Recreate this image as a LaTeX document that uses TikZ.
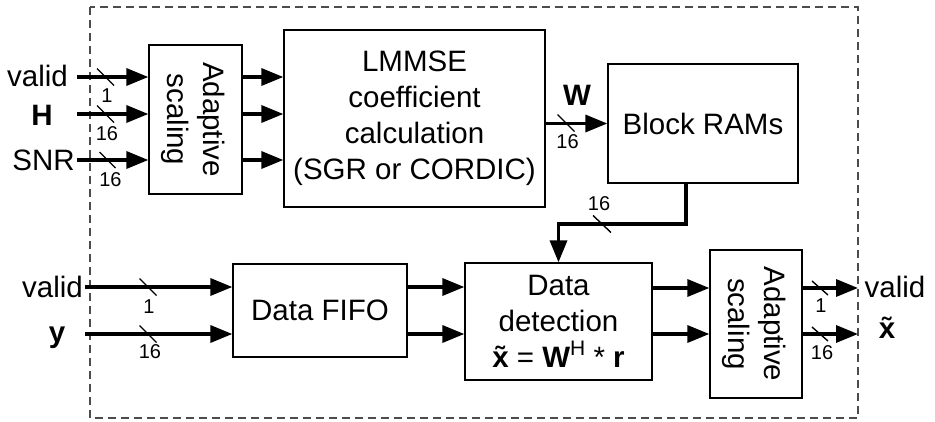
\documentclass[tikz,border=0pt]{standalone}
\usepackage{fontspec}
\setmainfont{Liberation Sans}
\usetikzlibrary{arrows.meta,calc}
\newcommand\bigf{\fontsize{29.5}{36}\selectfont}
\newcommand\smf{\fontsize{20}{22}\selectfont}
\newcommand\xt{\textbf{x̃}}
\begin{document}
\begin{tikzpicture}[x=1pt,y=-1pt,
  blk/.style={draw, line width=1.3pt, inner sep=0pt, align=center, font=\bigf},
  arr/.style={line width=3.4pt, -{Triangle[length=22pt,width=17pt]}},
  tick/.style={line width=1.4pt},
  lab/.style={font=\bigf, inner sep=0pt, anchor=base},
  num/.style={font=\smf, inner sep=0pt},
  rot/.style={rotate=-90, font=\bigf, align=center, inner sep=0pt}]
\useasboundingbox (0,0) rectangle (935,421);
\draw[dash pattern=on 8pt off 5pt, line width=1.2pt, black!70] (90,7) rectangle (858,418);

% blocks
\node[blk, minimum width=93pt, minimum height=149pt] (as1) at (195.5,119.5) {};
\node[rot] at ($(as1)+(-2,0)$) {Adaptive\\scaling};
\node[blk, minimum width=261pt, minimum height=177pt] (lmmse) at (414.5,118.5) {LMMSE\\coefficient\\calculation\\(SGR or CORDIC)};
\node[blk, minimum width=190pt, minimum height=119pt] (ram) at (703,123.5) {Block RAMs};
\node[blk, minimum width=174pt, minimum height=93pt] (fifo) at (320,310.5) {Data FIFO};
\node[blk, minimum width=187pt, minimum height=117pt] (det) at (558.5,321.5) {Data\\detection\\\xt{} = \textbf{W}\raisebox{12pt}{\fontsize{21}{21}\selectfont H} * \textbf{r}};
\node[blk, minimum width=92pt, minimum height=148pt] (as2) at (756,324) {};
\node[rot] at ($(as2)+(-2,0)$) {Adaptive\\scaling};

% input / output coordinates
\coordinate (iv) at (77,77);
\coordinate (ih) at (77,114);
\coordinate (is) at (77,160);
\coordinate (bv) at (85,287);
\coordinate (by) at (85,334);
\coordinate (ov) at (858,288);
\coordinate (ox) at (858,334);

% labels
\node[lab] at (37.5,86) {valid};
\node[lab] at (42,125) {\textbf{H}};
\node[lab] at (43.5,170) {SNR};
\node[lab] at (52.5,297) {valid};
\node[lab] at (57,342) {\textbf{y}};
\node[lab] at (895,297) {valid};
\node[lab] at (887,338) {\xt};
\node[lab] at (577,105) {\textbf{W}};

% top-left inputs
\draw[arr] (iv) -- (iv -| as1.west);
\draw[arr] (ih) -- (ih -| as1.west);
\draw[arr] (is) -- (is -| as1.west);
\draw[tick] (105.5,77) +(-8.5,-8.5) -- +(8.5,8.5);
\draw[tick] (105.5,114) +(-8.5,-8.5) -- +(8.5,8.5);
\draw[tick] (107.5,160) +(-8,-8) -- +(8,8);
\node[num] at (107,96) {1};
\node[num] at (107,134) {16};
\node[num] at (110.5,180) {16};

% as1 -> lmmse
\draw[arr] (iv -| as1.east) -- (iv -| lmmse.west);
\draw[arr] (ih -| as1.east) -- (ih -| lmmse.west);
\draw[arr] (is -| as1.east) -- (is -| lmmse.west);

% lmmse -> ram
\draw[arr] (lmmse.east |- ram.west) -- (ram.west);
\draw[tick] (566,123) +(-8.5,-8.5) -- +(8.5,8.5);
\node[num] at (567.5,141.5) {16};

% ram -> det
\coordinate (rs) at (686,183);
\draw[arr] (rs) -- (686,224) -| (det.north);
\draw[tick] (602,224) +(-9,-8.5) -- +(9,8.5);
\node[num] at (599,204) {16};

% bottom inputs
\draw[arr] (bv) -- (bv -| fifo.west);
\draw[arr] (by) -- (by -| fifo.west);
\draw[tick] (148,287) +(-8.5,-8.5) -- +(8.5,8.5);
\draw[tick] (148,334) +(-8.5,-8.5) -- +(8.5,8.5);
\node[num] at (149,307) {1};
\node[num] at (150,352) {16};

% fifo -> det
\draw[arr] (bv -| fifo.east) -- (bv -| det.west);
\draw[arr] (by -| fifo.east) -- (by -| det.west);

% det -> as2
\draw[arr] (ov -| det.east) -- (ov -| as2.west);
\draw[arr] (ox -| det.east) -- (ox -| as2.west);

% outputs
\draw[arr] (ov -| as2.east) -- (ov);
\draw[arr] (ox -| as2.east) -- (ox);
\draw[tick] (820,288) +(-8,-7) -- +(8,7);
\draw[tick] (820,334) +(-8,-7) -- +(8,7);
\node[num] at (821,306) {1};
\node[num] at (822,353) {16};
\end{tikzpicture}
\end{document}
